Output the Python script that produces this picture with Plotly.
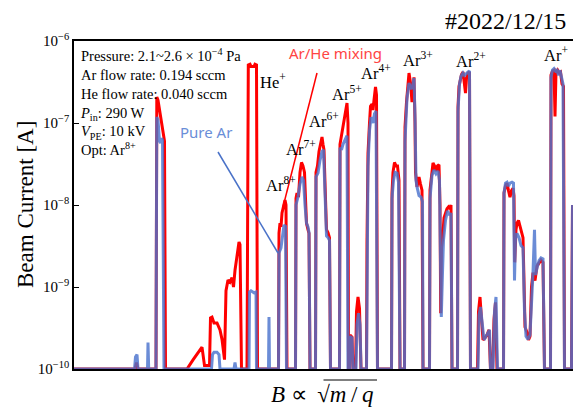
import plotly.graph_objects as go

# Magnetic field scan (arbitrary B units) vs. beam current [A]
# Ar/He mixed plasma
red_B = [74, 135, 136.5, 138, 156, 156.8, 158, 160, 162, 163.5, 164.5, 165.5,
         187, 193, 200, 202, 204.5, 209.5, 210.5, 212, 214, 217, 220, 222, 224.5,
         226, 228, 230, 232, 233.5, 235, 237, 239, 240, 241.5,
         247, 248.3, 250, 251, 254, 255, 256.5, 257.5,
         278.5, 279, 280, 281, 282, 283.5, 285, 286, 287,
         295.5, 296, 297, 298.5, 300, 301.5, 303, 304.5, 305.5, 306.5, 308, 309, 310,
         315.5, 316, 317.5, 319, 320.5, 322, 323, 324, 325, 326.5, 328, 329.5, 330.5,
         339.5, 340, 341.5, 343, 344.5, 346, 347, 348, 348.5,
         349.5, 350, 352, 353, 355.5, 356.5, 358, 359.5, 361,
         366.5, 367, 368, 369.5, 370.5, 372, 373, 374, 375.5, 376.5, 377.5,
         391.5, 392, 393, 394.5, 396, 397.5, 399, 400,
         404.5, 405, 406.5, 408, 409, 410.5, 412, 413, 414, 415, 415.5, 417, 419, 420.5, 422, 423,
         429.5, 430, 431.5, 433, 434.5, 436, 437.5, 439, 440, 440.7, 441.5, 442.5, 444, 445.5,
         447, 448.5, 450, 451, 452,
         457.5, 458, 459, 460, 461.5, 463, 464.5, 465.5, 466.5, 468, 469.5, 470.5,
         477.5, 478.5, 480, 481.5, 483, 485, 487, 489, 490.5, 492.5, 494, 495.5, 497,
         503.5, 504, 505.5, 507, 508.5, 510, 511.5, 513, 514, 514.7, 516, 517, 518.5, 520,
         521.5, 523, 524, 525, 527, 528.5, 530, 531.5, 533, 535, 537, 539, 541, 543, 544.5,
         550.5, 551, 552.5, 554, 555, 556, 557.5, 559, 560.5, 562, 563.5, 564.5,
         571.5, 572.5]
red_I = [1e-10, 1e-10, 1.2e-10, 1e-10, 1e-10, 2.08e-7, 1.9e-7, 1.3e-7, 1.0e-7, 7.5e-8, 6e-8, 1e-10,
         1e-10, 1.29e-10, 1.7e-10, 1.85e-10, 1.1e-10, 1.1e-10, 4.2e-10, 4.3e-10, 3.64e-10, 3.64e-10,
         2.99e-10, 2.3e-10, 1.3e-10,
         9e-10, 1.22e-9, 1.15e-9, 1.3e-9, 1.0e-9, 1.6e-9, 2.6e-9, 3.54e-9, 3.3e-9, 1e-10,
         1e-10, 5.1e-7, 5.2e-7, 4.9e-7, 4.9e-7, 5.2e-7, 5.1e-7, 1e-10,
         1e-10, 4.56e-9, 6e-9, 5.4e-9, 8e-9, 9.5e-9, 1.15e-8, 1.0e-8, 1e-10,
         1e-10, 1.2e-8, 1.4e-8, 1.25e-8, 2.5e-8, 3.3e-8, 3.0e-8, 2.5e-8, 1.2e-8, 6e-9, 5e-9, 4.5e-9, 1e-10,
         1e-10, 2.5e-8, 3.0e-8, 4.5e-8, 5.5e-8, 6.75e-8, 5.5e-8, 4.7e-8, 1.85e-8, 5e-9, 4.6e-9, 4e-9, 1e-10,
         1e-10, 5.5e-8, 7.1e-8, 9e-8, 1.15e-7, 1.4e-7, 1.75e-7, 1.0e-7, 1e-10,
         1e-10, 2.6e-10, 2.45e-10, 1e-10, 1e-10, 5e-10, 7.55e-10, 5.5e-10, 1e-10,
         1e-10, 3.7e-9, 4.3e-8, 1.0e-7, 1.6e-7, 1.7e-7, 1.44e-7, 1.9e-7, 2.75e-7, 2.2e-7, 1e-10,
         1e-10, 1.4e-8, 2.5e-8, 3.3e-8, 3.0e-8, 3.0e-8, 2.0e-8, 1e-10,
         1e-10, 8.9e-8, 1.8e-7, 3.5e-7, 4.07e-7, 3.1e-7, 1.8e-7, 2.8e-7, 3.6e-7, 1.0e-7, 2.5e-8,
         1.66e-8, 2.19e-8, 1.8e-8, 1.52e-8, 1e-10,
         1e-10, 1.52e-8, 2.3e-8, 3.25e-8, 3.0e-8, 2.6e-8, 3.0e-8, 3.1e-8, 1e-8, 4.8e-10, 3e-9, 3.74e-9,
         7e-9, 8e-9, 9e-9, 9.5e-9, 9e-9, 1.0e-8, 1e-10,
         1e-10, 1.57e-7, 2.8e-7, 3.34e-7, 3.9e-7, 4.19e-7, 3.0e-7, 2.32e-7, 3.5e-7, 4.07e-7, 4.19e-7, 1e-10,
         1e-10, 5e-10, 7.55e-10, 4.3e-10, 2.26e-10, 2.4e-10, 2.6e-10, 3e-10, 1e-10, 1e-10, 4e-10, 6.5e-10, 1e-10,
         1e-10, 1.4e-8, 1.7e-8, 1.85e-8, 1.5e-8, 1.25e-8, 1.5e-8, 1.6e-8, 1.3e-8, 2e-9, 5e-9, 6e-9, 6.5e-9,
         5.5e-9, 4.6e-9, 4e-9, 1.2e-9, 3.25e-10, 2.8e-10, 2.26e-10, 2.5e-10, 1.0e-9, 1.5e-9, 1.2e-9, 1.8e-9,
         2.0e-9, 2.13e-9, 2.0e-9, 1e-10,
         1e-10, 3.85e-7, 4.3e-7, 4.4e-7, 1.2e-7, 4.2e-7, 4.43e-7, 4.1e-7, 4.2e-7, 3e-7, 2.8e-7, 1e-10,
         1e-10, 1e-8]

# Pure Ar plasma
blue_B = [74, 134.5, 135.5, 137, 138, 147.5, 148, 148.7,
          156, 156.8, 158, 159.5, 160.5, 161.5, 162.5, 164,
          211.5, 212.5, 214, 217, 219, 220, 234, 235, 236,
          249, 249.5, 251, 254, 256, 256.5, 268.5, 269, 269.5,
          278.5, 279, 281, 282.5, 284, 285.5, 286.5,
          295.5, 296, 298, 300, 302, 303.5, 305, 306.5, 308, 309, 310,
          315.5, 316, 318, 320, 322, 323.5, 325, 326.5, 328, 329.5, 330.5,
          339.5, 340, 341.5, 343, 345, 347, 348,
          349.5, 350, 352, 353, 356, 357, 358.5, 360, 361,
          366.5, 367, 368, 369.5, 371, 373, 374.5, 376, 377.5,
          391.5, 392, 393.5, 395, 397, 398.5, 400,
          404.5, 405, 407, 409, 411, 412.5, 414, 415, 416, 417, 419, 421, 422.5, 423,
          429.5, 430, 432, 434, 436, 438, 439.5, 440.5, 441.3, 442.5, 443.5, 445.5, 447.5,
          449.5, 451, 452,
          457.5, 458, 459.5, 461, 463, 464.5, 466, 468, 469.5, 470.5,
          478, 479, 480.5, 482, 484, 486, 488, 489.5, 490.5, 493, 494.5, 496, 497.5,
          503.5, 504, 505.5, 507, 508.5, 510, 512, 513.5, 514.5, 515.5, 517, 519, 521, 523,
          524.5, 526, 528, 530, 531.5, 533, 534.5, 535.5, 537, 539, 541, 543, 544.5,
          550.5, 551, 552.5, 554, 555.5, 557, 558.5, 560, 561.5, 563, 564.5,
          571.5, 572.5]
blue_I = [1e-10, 1e-10, 1.4e-10, 1.5e-10, 1e-10, 1e-10, 2.1e-10, 1e-10,
          1e-10, 1.18e-7, 1.1e-7, 6e-8, 5.7e-8, 6.5e-8, 6.2e-8, 1e-10,
          1e-10, 1.5e-10, 1.6e-10, 1.6e-10, 1.5e-10, 1e-10, 1e-10, 1.2e-10, 1e-10,
          1e-10, 8.7e-10, 9e-10, 8.5e-10, 8.7e-10, 1e-10, 1e-10, 4.3e-10, 1e-10,
          1e-10, 2.6e-9, 3.0e-9, 4.5e-9, 5.7e-9, 5.5e-9, 1e-10,
          1e-10, 1.0e-8, 1.25e-8, 1.8e-8, 2.2e-8, 2.0e-8, 1.0e-8, 6e-9, 5.4e-9, 4.6e-9, 1e-10,
          1e-10, 2.2e-8, 2.45e-8, 3.5e-8, 4.5e-8, 4.7e-8, 1.5e-8, 4.2e-9, 4e-9, 3.7e-9, 1e-10,
          1e-10, 5e-8, 4.7e-8, 5.5e-8, 6.2e-8, 7e-8, 1e-10,
          1e-10, 2.5e-10, 2.4e-10, 1e-10, 1e-10, 3.5e-10, 4.8e-10, 3.5e-10, 1e-10,
          1e-10, 3e-9, 3e-8, 8e-8, 1.18e-7, 1.0e-7, 1.3e-7, 1.4e-7, 1e-10,
          1e-10, 1.2e-8, 2.0e-8, 2.5e-8, 2.45e-8, 1.9e-8, 1e-10,
          1e-10, 6e-8, 2.0e-7, 3.08e-7, 2.6e-7, 2.8e-7, 3.54e-7, 1.2e-7, 2e-8, 1.66e-8, 1.3e-8,
          1.25e-8, 1.1e-8, 1e-10,
          1e-10, 1.2e-8, 2.3e-8, 2.67e-8, 2.4e-8, 2.6e-8, 2.0e-8, 2e-9, 4.3e-10, 1.5e-9, 3.74e-9,
          6.5e-9, 8.5e-9, 7.5e-9, 8e-9, 1e-10,
          1e-10, 1.4e-7, 3.0e-7, 3.7e-7, 4.07e-7, 3.8e-7, 4.0e-7, 4.19e-7, 4.3e-7, 1e-10,
          1e-10, 4.5e-10, 5.7e-10, 3.5e-10, 2.26e-10, 2.5e-10, 2.8e-10, 3e-10, 1e-10, 1e-10, 5e-10,
          7.55e-10, 1e-10,
          1e-10, 1.4e-8, 1.85e-8, 1.9e-8, 1.7e-8, 1.85e-8, 1.9e-8, 1.85e-8, 1.2e-9, 4e-9, 4.5e-9,
          4e-9, 3.2e-9, 3.0e-9, 5e-10, 2.5e-10, 2.3e-10, 2.6e-10, 6e-10, 1.5e-9, 5e-9, 1.4e-9,
          1.7e-9, 2.1e-9, 2.26e-9, 2.2e-9, 1e-10,
          1e-10, 3.6e-7, 4.43e-7, 4.6e-7, 4.3e-7, 4.4e-7, 3.8e-7, 4.4e-7, 3.5e-7, 3.0e-7, 1e-10,
          1e-10, 1e-8]

# Ion species labels (B position, label)
ion_labels = ["He<sup>+</sup>", "Ar<sup>8+</sup>", "Ar<sup>7+</sup>", "Ar<sup>6+</sup>",
              "Ar<sup>5+</sup>", "Ar<sup>4+</sup>", "Ar<sup>3+</sup>", "Ar<sup>2+</sup>", "Ar<sup>+</sup>"]
ion_B = [273, 281, 301, 324, 347, 376, 418, 471, 556]

condition_lines = [
    "Pressure: 2.1~2.6 × 10<sup>−4</sup> Pa",
    "Ar flow rate: 0.194 sccm",
    "He flow rate: 0.040 sccm",
    "<i>P</i><sub>in</sub>: 290 W",
    "<i>V</i><sub>PE</sub>: 10 kV",
    "Opt: Ar<sup>8+</sup>",
]

tick_vals = [1e-10, 1e-9, 1e-8, 1e-7, 1e-6]
tick_text = ["10<sup>−10</sup>", "10<sup>−9</sup>", "10<sup>−8</sup>", "10<sup>−7</sup>", "10<sup>−6</sup>"]

W, H = 573, 407
L, R, T, B = 74, 0, 41, 38
SERIF = "Liberation Serif, Times New Roman, serif"
SANS = "Noto Sans, sans-serif"


def py(ypix):
    """pixel row -> paper y"""
    return (H - B - ypix) / (H - T - B)


def px(xpix):
    """pixel column -> paper x"""
    return (xpix - L) / (W - L - R)


fig = go.Figure()
fig.add_trace(go.Scatter(x=red_B, y=red_I, mode="lines", name="Ar/He mixing",
                         line=dict(color="#ff0000", width=3)))
fig.add_trace(go.Scatter(x=blue_B, y=blue_I, mode="lines", name="Pure Ar",
                         line=dict(color="rgba(75,115,205,0.82)", width=3)))

annotations = []
# ion labels
ion_y = [81, 185, 148, 120, 93, 72, 59, 60, 54]
for lab, b, yy in zip(ion_labels, ion_B, ion_y):
    annotations.append(dict(x=b, xref="x", y=py(yy), yref="paper", text=lab, showarrow=False,
                            font=dict(family=SERIF, size=16.5, color="black"),
                            xanchor="center", yanchor="middle"))

# experimental conditions
annotations.append(dict(x=px(78), y=py(44), xref="paper", yref="paper", xanchor="left", yanchor="top",
                        align="left", showarrow=False, text="<br>".join(condition_lines),
                        font=dict(family=SERIF, size=14.5, color="black")))

# series labels
annotations.append(dict(x=335, xref="x", y=py(41), yref="paper", text="Ar/He mixing", showarrow=False,
                        font=dict(family=SANS, size=15, color="#ff4444")))
annotations.append(dict(x=206, xref="x", y=py(120), yref="paper", text="Pure Ar", showarrow=False,
                        font=dict(family=SANS, size=15, color="#6a8ed8")))

# run date
annotations.append(dict(x=px(568), y=py(21), xref="paper", yref="paper", xanchor="right",
                        yanchor="middle", text="#2022/12/15", showarrow=False,
                        font=dict(family=SERIF, size=24, color="black")))

# axis titles
annotations.append(dict(x=px(25), y=py(205), xref="paper", yref="paper", text="Beam Current [A]",
                        textangle=-90, showarrow=False, xanchor="center", yanchor="middle",
                        font=dict(family=SERIF, size=23, color="black")))
annotations.append(dict(x=px(269), y=py(394), xref="paper", yref="paper",
                        text="<i>B</i> ∝ \u2009√<i>m</i>\u2009/\u2009<i>q</i>", showarrow=False,
                        xanchor="left", yanchor="middle",
                        font=dict(family=SERIF, size=23, color="black")))

shapes = [
    # leader lines from series labels
    dict(type="line", xref="x", yref="paper", x0=317, y0=py(73), x1=283, y1=py(207),
         line=dict(color="#ff0000", width=1.5)),
    dict(type="line", xref="x", yref="paper", x0=218, y0=py(152), x1=278, y1=py(253),
         line=dict(color="#4a72c8", width=1.5)),
    # vinculum of the square root
    dict(type="line", xref="paper", yref="paper", x0=px(323.5), y0=py(380), x1=px(377), y1=py(380),
         line=dict(color="black", width=1.2)),
]

fig.update_layout(
    width=W, height=H, autosize=False,
    margin=dict(l=L, r=R, t=T, b=B, pad=0),
    paper_bgcolor="white", plot_bgcolor="white",
    showlegend=False,
    template="none",
    annotations=annotations,
    shapes=shapes,
)
fig.update_xaxes(range=[74, 573], showticklabels=False, ticks="", showgrid=False, zeroline=False,
                 showline=True, linecolor="black", linewidth=1.5, mirror=True, layer="below traces")
fig.update_yaxes(type="log", range=[-10, -6], tickvals=tick_vals, ticktext=tick_text,
                 ticks="inside", ticklen=5, tickwidth=1, tickcolor="black",
                 showgrid=False, zeroline=False, showline=True, linecolor="black", linewidth=1.5,
                 tickfont=dict(family=SERIF, size=15, color="black"))

fig.write_html("out.html")
